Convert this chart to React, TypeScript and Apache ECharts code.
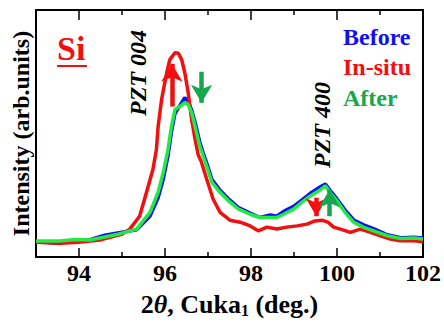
import React, { useEffect, useRef } from "react";
import * as echarts from "echarts";

// 2θ (deg.) and intensity (arb. units, 0–100 scale)
const angleInSitu = [93.0, 93.55, 93.99, 94.48, 95.01, 95.18, 95.41, 95.57, 95.72, 95.8, 95.84, 95.92, 96.04, 96.11, 96.23, 96.31, 96.39, 96.46, 96.54, 96.62, 96.7, 96.77, 96.85, 96.97, 97.12, 97.28, 97.51, 97.75, 97.98, 98.17, 98.37, 98.6, 98.83, 99.07, 99.3, 99.49, 99.65, 99.8, 99.92, 100.08, 100.31, 100.54, 100.78, 101.01, 101.24, 101.47, 101.79, 102.0];
const intensityInSitu = [6.0, 5.6, 6.0, 6.9, 9.3, 11.3, 16.5, 26.2, 35.5, 43.5, 52.8, 63.7, 74.6, 79.8, 82.7, 82.5, 79.8, 74.6, 66.5, 55.6, 47.6, 41.5, 38.3, 31.5, 23.4, 18.1, 14.9, 14.1, 12.6, 10.6, 12.1, 11.3, 12.1, 12.6, 13.3, 14.6, 14.9, 14.0, 12.1, 11.3, 10.0, 11.3, 10.0, 8.6, 7.3, 6.6, 6.6, 6.2];

const angleAfter = [93.0, 93.55, 93.92, 94.25, 94.6, 94.93, 95.34, 95.65, 95.84, 95.96, 96.07, 96.15, 96.23, 96.35, 96.46, 96.54, 96.62, 96.7, 96.81, 96.89, 96.97, 97.09, 97.28, 97.51, 97.71, 97.98, 98.21, 98.45, 98.6, 98.76, 98.99, 99.18, 99.38, 99.57, 99.73, 99.84, 100.0, 100.19, 100.39, 100.62, 100.85, 101.17, 101.48, 101.79, 102.0];
const intensityAfter = [6.5, 6.5, 7.1, 6.9, 8.1, 9.3, 11.3, 18.1, 26.2, 34.3, 43.5, 52.8, 59.7, 61.0, 62.5, 61.7, 58.5, 52.8, 44.8, 40.7, 36.7, 30.2, 26.2, 22.2, 19.4, 17.3, 16.0, 16.0, 16.0, 17.3, 19.4, 22.1, 24.7, 26.7, 28.8, 26.1, 22.7, 18.0, 14.0, 12.0, 10.6, 8.6, 7.5, 7.7, 7.3];

const angleBefore = [93.0, 93.55, 93.92, 94.25, 94.6, 94.93, 95.34, 95.65, 95.84, 95.96, 96.07, 96.15, 96.23, 96.35, 96.46, 96.54, 96.62, 96.7, 96.81, 96.89, 96.97, 97.09, 97.28, 97.51, 97.71, 97.98, 98.21, 98.45, 98.6, 98.76, 98.99, 99.18, 99.38, 99.57, 99.73, 99.84, 100.0, 100.19, 100.39, 100.62, 100.85, 101.17, 101.48, 101.79, 102.0];
const intensityBefore = [6.3, 5.5, 6.9, 7.0, 8.8, 9.8, 11.0, 16.5, 24.0, 31.5, 41.0, 50.5, 58.0, 61.5, 64.5, 63.0, 59.5, 54.5, 46.5, 42.0, 38.0, 31.5, 27.0, 23.0, 20.0, 17.8, 16.0, 17.0, 16.5, 18.5, 20.5, 23.0, 25.8, 28.0, 29.5, 27.0, 23.5, 19.0, 15.0, 13.0, 11.5, 9.0, 7.8, 8.0, 7.7];

// arrows: [angle, fromIntensity, toIntensity]
const arrowsInSitu = [[96.16, 60.9, 78.2], [99.52, 24.0, 16.5]];
const arrowsAfter = [[96.85, 75.0, 62.4], [99.83, 16.5, 27.3]];

const majorTicks = [94, 96, 98, 100, 102];
const minorTicks = [95, 97, 99, 101];

const seriesNames = ["Before", "In-situ", "After"];

const FONT = "Liberation Serif";
const RED = "#f20f0f";
const BLUE = "#1010f0";
const GREEN_LINE = "#22ea44";
const GREEN_TEXT = "#16a84c";

function zip(xs: number[], ys: number[]) {
  return xs.map((x, i) => [x, ys[i]]);
}

function arrowLines(list: number[][]) {
  return list.map(([x, y1, y2]) => [{ coord: [x, y1] }, { coord: [x, y2] }]);
}

export default function App() {
  const ref = useRef<HTMLDivElement>(null);
  useEffect(() => {
    document.body.style.margin = "0";
    if (!ref.current) return;
    const chart = echarts.init(ref.current, undefined, { renderer: "svg" });
    const axisCommon = {
      type: "value" as const,
      min: 93,
      max: 102,
      splitLine: { show: false },
    };
    chart.setOption({
      animation: false,
      backgroundColor: "#fff",
      grid: { left: 36, right: 20, top: 10, bottom: 65 },
      xAxis: [
        {
          ...axisCommon,
          position: "bottom",
          axisLine: { onZero: false, lineStyle: { color: "#000", width: 2 } },
          axisTick: { inside: true, length: 9, customValues: majorTicks, lineStyle: { color: "#000", width: 1.5 } },
          axisLabel: {
            customValues: majorTicks,
            margin: 4,
            fontFamily: FONT,
            fontWeight: "bold",
            fontSize: 24,
            color: "#000",
          },
          name: "{a|2}{b|θ}{a|, Cuka}{c|1}{a| (deg.)}",
          nameLocation: "middle",
          nameGap: 33,
          nameTextStyle: {
            rich: {
              a: { fontFamily: FONT, fontWeight: "bold", fontSize: 26, color: "#000" },
              b: { fontFamily: FONT, fontWeight: "bold", fontStyle: "italic", fontSize: 26, color: "#000" },
              c: { fontFamily: FONT, fontWeight: "bold", fontSize: 16, color: "#000", verticalAlign: "bottom", padding: [12, 0, 0, 0] },
            },
          },
        },
        {
          ...axisCommon,
          position: "bottom",
          axisLine: { show: false, onZero: false },
          axisTick: { inside: true, length: 5, customValues: minorTicks, lineStyle: { color: "#000", width: 1.5 } },
          axisLabel: { show: false },
        },
        {
          ...axisCommon,
          position: "top",
          axisLine: { onZero: false, lineStyle: { color: "#000", width: 2 } },
          axisTick: { inside: true, length: 10, customValues: majorTicks, lineStyle: { color: "#000", width: 1.5 } },
          axisLabel: { show: false },
        },
        {
          ...axisCommon,
          position: "top",
          axisLine: { show: false, onZero: false },
          axisTick: { inside: true, length: 5, customValues: minorTicks, lineStyle: { color: "#000", width: 1.5 } },
          axisLabel: { show: false },
        },
      ],
      yAxis: [
        {
          type: "value",
          min: 0,
          max: 100,
          position: "left",
          axisLine: { show: true, onZero: false, lineStyle: { color: "#000", width: 2 } },
          axisTick: { show: false },
          axisLabel: { show: false },
          splitLine: { show: false },
          name: "Intensity (arb.units)",
          nameLocation: "middle",
          nameGap: 3,
          nameTextStyle: { fontFamily: FONT, fontWeight: "bold", fontSize: 24, color: "#000" },
        },
        {
          type: "value",
          min: 0,
          max: 100,
          position: "right",
          axisLine: { show: true, onZero: false, lineStyle: { color: "#000", width: 2 } },
          axisTick: { show: false },
          axisLabel: { show: false },
          splitLine: { show: false },
        },
      ],
      series: [
        {
          name: seriesNames[0],
          type: "line",
          data: zip(angleBefore, intensityBefore),
          showSymbol: false,
          symbol: "none",
          lineStyle: { color: BLUE, width: 3.5 },
          z: 2,
          silent: true,
        },
        {
          name: seriesNames[1],
          type: "line",
          data: zip(angleInSitu, intensityInSitu),
          showSymbol: false,
          symbol: "none",
          lineStyle: { color: RED, width: 3.5 },
          z: 3,
          silent: true,
          markLine: {
            silent: true,
            symbol: ["none", "arrow"],
            symbolSize: [16, 18],
            label: { show: false },
            lineStyle: { color: RED, width: 4.5, type: "solid" },
            data: arrowLines(arrowsInSitu),
          },
        },
        {
          name: seriesNames[2],
          type: "line",
          data: zip(angleAfter, intensityAfter),
          showSymbol: false,
          symbol: "none",
          lineStyle: { color: GREEN_LINE, width: 3.5 },
          z: 4,
          silent: true,
          markLine: {
            silent: true,
            symbol: ["none", "arrow"],
            symbolSize: [16, 18],
            label: { show: false },
            lineStyle: { color: GREEN_TEXT, width: 4.5, type: "solid" },
            data: arrowLines(arrowsAfter),
          },
        },
      ],
      graphic: [
        {
          type: "text",
          left: 57,
          top: 31,
          style: { text: "Si", fontFamily: FONT, fontWeight: "bold", fontSize: 34, fill: RED },
        },
        {
          type: "line",
          shape: { x1: 57, y1: 66, x2: 87, y2: 66 },
          style: { stroke: RED, lineWidth: 2 },
        },
        {
          type: "text",
          x: 138,
          y: 73,
          rotation: Math.PI / 2,
          style: {
            text: "PZT 004",
            fontFamily: FONT,
            fontWeight: "bold",
            fontStyle: "italic",
            fontSize: 24,
            fill: "#000",
            align: "center",
            verticalAlign: "middle",
          },
        },
        {
          type: "text",
          x: 322,
          y: 125,
          rotation: Math.PI / 2,
          style: {
            text: "PZT 400",
            fontFamily: FONT,
            fontWeight: "bold",
            fontStyle: "italic",
            fontSize: 24,
            fill: "#000",
            align: "center",
            verticalAlign: "middle",
          },
        },
        {
          type: "text",
          x: 343,
          y: 37,
          style: { text: seriesNames[0], fontFamily: FONT, fontWeight: "bold", fontSize: 24, fill: BLUE, verticalAlign: "middle" },
        },
        {
          type: "text",
          x: 343,
          y: 67,
          style: { text: seriesNames[1], fontFamily: FONT, fontWeight: "bold", fontSize: 24, fill: RED, verticalAlign: "middle" },
        },
        {
          type: "text",
          x: 343,
          y: 98,
          style: { text: seriesNames[2], fontFamily: FONT, fontWeight: "bold", fontSize: 24, fill: GREEN_TEXT, verticalAlign: "middle" },
        },
      ],
    });
    return () => chart.dispose();
  }, []);
  return <div ref={ref} style={{ width: 444, height: 323 }} />;
}
